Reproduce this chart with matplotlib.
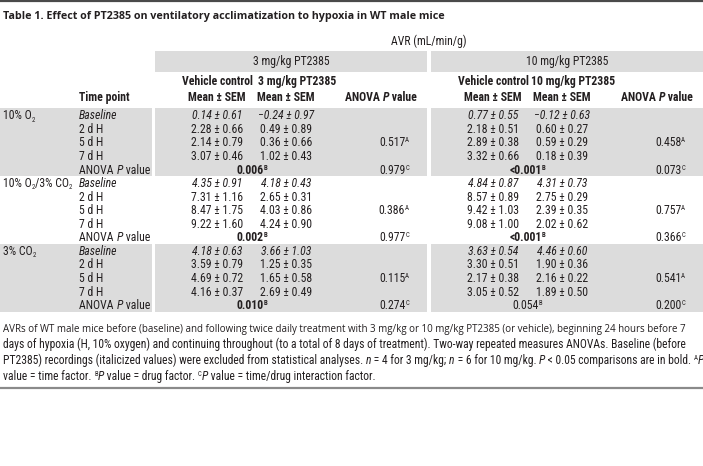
import re
import matplotlib
matplotlib.use("Agg")
import matplotlib.pyplot as plt
from matplotlib.patches import Rectangle
from matplotlib import font_manager
from matplotlib.font_manager import FontProperties

W, H = 703, 466
INK = "#231f20"
GREY = "#dcdcdc"

# ── Table content ──────────────────────────────────────────────────────────
TITLE = "Table 1. Effect of PT2385 on ventilatory acclimatization to hypoxia in WT male mice"
UNIT = "AVR (mL/min/g)"
DOSES = ["3 mg/kg PT2385", "10 mg/kg PT2385"]
CONDITIONS = ["10% O_{2}", "10% O_{2}/3% CO_{2}", "3% CO_{2}"]
TIMEPOINTS = ["Baseline", "2 d H", "5 d H", "7 d H"]

# mean, SEM per condition (rows) x time point (cols)
VEH3_MEAN = [[0.14, 2.28, 2.14, 3.07], [4.35, 7.31, 8.47, 9.22], [4.18, 3.59, 4.69, 4.16]]
VEH3_SEM = [[0.61, 0.66, 0.79, 0.46], [0.91, 1.16, 1.75, 1.60], [0.63, 0.79, 0.72, 0.37]]
PT3_MEAN = [[-0.24, 0.49, 0.36, 1.02], [4.18, 2.65, 4.03, 4.24], [3.66, 1.25, 1.65, 2.69]]
PT3_SEM = [[0.97, 0.89, 0.66, 0.43], [0.43, 0.31, 0.86, 0.90], [1.03, 0.35, 0.58, 0.49]]
VEH10_MEAN = [[0.77, 2.18, 2.89, 3.32], [4.84, 8.57, 9.42, 9.08], [3.63, 3.30, 2.17, 3.05]]
VEH10_SEM = [[0.55, 0.51, 0.38, 0.66], [0.87, 0.89, 1.03, 1.00], [0.54, 0.51, 0.38, 0.52]]
PT10_MEAN = [[-0.12, 0.60, 0.59, 0.18], [4.31, 2.75, 2.39, 2.02], [4.46, 1.90, 2.16, 1.89]]
PT10_SEM = [[0.63, 0.27, 0.29, 0.39], [0.73, 0.29, 0.35, 0.62], [0.60, 0.36, 0.22, 0.50]]

# two-way RM ANOVA P values: time (A), drug (B), interaction (C)
TIME_P = [["0.517", "0.386", "0.115"], ["0.458", "0.757", "0.541"]]
DRUG_P = [["0.006", "0.002", "0.010"], ["<0.001", "<0.001", "0.054"]]
INTER_P = [["0.979", "0.977", "0.274"], ["0.073", "0.366", "0.200"]]

FOOTNOTE_1 = ("AVRs of WT male mice before (baseline) and following twice daily treatment with "
              "3 mg/kg or 10 mg/kg PT2385 (or vehicle), beginning 24 hours before 7")
FOOTNOTE_REST = [
    "days of hypoxia (H, 10% oxygen) and continuing throughout (to a total of 8 days of "
    "treatment). Two-way repeated measures ANOVAs. Baseline (before",
    "PT2385) recordings (italicized values) were excluded from statistical analyses. "
    "*n* = 4 for 3 mg/kg; *n* = 6 for 10 mg/kg. *P* < 0.05 comparisons are in bold. ^{A}*P*",
    "value = time factor. ^{B}*P* value = drug factor. ^{C}*P* value = time/drug interaction factor.",
]

# ── Layout (pixels, y = text centre) ───────────────────────────────────────
ROW0, DY = 115, 13.57
BANDS = [155, 431]          # left edge of each dose block
BAND_W = 272
X_VEH, X_PT, X_PT_HEAD, X_ANOVA_HEAD, X_ANOVA = 62, 131, 142, 226, 239


# ── Fonts: look for a condensed sans, else fall back to Liberation Sans ───
COND = {"condensed", "semi-condensed", "extra-condensed", "ultra-condensed"}
PREF = ["Liberation Sans Narrow", "Roboto Condensed", "Noto Sans", "Open Sans",
        "DejaVu Sans", "Lato", "Inter"]


def _weight(f):
    w = f.weight
    if isinstance(w, str):
        w = font_manager.weight_dict.get(w, 400)
    return int(w)


def narrow_faces():
    cands = [f for f in font_manager.fontManager.ttflist
             if ("Narrow" in f.name or "Condensed" in f.name or f.stretch in COND)
             and not any(k in f.name for k in ("Mono", "Serif", "CJK"))]
    if not cands:
        return None

    def rank(f):
        fam = next((i for i, p in enumerate(PREF) if f.name.startswith(p)), len(PREF))
        return (fam, 0 if f.stretch == "condensed" else 1)

    best = min(cands, key=rank)
    group = [f for f in cands if f.name == best.name and f.stretch == best.stretch]
    faces = {}
    for bold in (False, True):
        for it in (False, True):
            pool = [f for f in group if (f.style != "normal") == it] or group
            f = min(pool, key=lambda f: abs(_weight(f) - (700 if bold else 400)))
            faces[(bold, it)] = f.fname
    return faces


FACES = narrow_faces()


def face(bold, it, size):
    if FACES:
        return FontProperties(fname=FACES[(bold, it)], size=size)
    return FontProperties(family="Liberation Sans", weight="bold" if bold else "normal",
                          style="italic" if it else "normal", size=size)


def wide_face(bold, it, size):
    return FontProperties(family=["Open Sans", "DejaVu Sans"], weight="bold" if bold else "normal",
                          style="italic" if it else "normal", size=size)


fig = plt.figure(figsize=(W / 100, H / 100), dpi=100)
ax = fig.add_axes([0, 0, 1, 1])
ax.set_xlim(0, W)
ax.set_ylim(H, 0)
ax.axis("off")
R = fig.canvas.get_renderer()

TOKEN = re.compile(r"(\^\{[^}]*\}|_\{[^}]*\}|\*[^*]+\*)")


def measure(s, fp):
    t = ax.text(0, 0, "x" + s + "x", fontproperties=fp)
    t2 = ax.text(0, 0, "xx", fontproperties=fp)
    w = t.get_window_extent(R).width - t2.get_window_extent(R).width
    t.remove()
    t2.remove()
    return w


def rich(x, y, s, size, ha="left", bold=False, italic=False, wide=False):
    """Draw a line with ^{sup}, _{sub} and *italic* parts; y is the text centre."""
    mk = wide_face if wide else face
    parts = []
    for tok in TOKEN.split(s):
        if not tok:
            continue
        it, scale, dy = italic, 1.0, 0.0
        if tok[:2] == "^{":
            tok, scale, dy = tok[2:-1], 0.58, -0.34
        elif tok[:2] == "_{":
            tok, scale, dy = tok[2:-1], 0.58, 0.2
        elif tok[0] == "*":
            tok, it = tok[1:-1], True
        parts.append((tok, mk(bold, it, size * scale), dy * size * 100 / 72))
    widths = [measure(t, fp) for t, fp, _ in parts]
    x0 = x - sum(widths) / 2 if ha == "center" else x
    base = y + 0.36 * size * 100 / 72
    for (t, fp, dy), w in zip(parts, widths):
        ax.text(x0, base + dy, t, fontproperties=fp, color=INK, va="baseline")
        x0 += w


def fit(s, target, mk, bold=False):
    return 8.0 * target / measure(s, mk(bold, False, 8.0))


FS = fit("Vehicle control", 71, face, bold=True)
FS_TITLE = fit(TITLE, 442, wide_face, bold=True)
FS_NOTE = fit(FOOTNOTE_REST[0], 687, face)
FS_NOTE1 = fit(FOOTNOTE_1, 687, wide_face)


def fmt(m, s):
    return f"{m:.2f} ± {s:.2f}".replace("-", "\u2212")


def is_sig(p):
    return float(p.lstrip("<")) < 0.05


def row_y(block, r):
    return ROW0 + DY * (block * 5 + r)


# rules
ax.axhline(1.2, color="#4a4a4a", lw=1.6)
ax.axhline(388, color="#8a8a8a", lw=1.6)

# header bands
for x0, dose in zip(BANDS, DOSES):
    ax.add_patch(Rectangle((x0, 51), BAND_W, 20.5, color=GREY, lw=0))
    rich(x0 + BAND_W / 2, 61, dose, FS, ha="center")

# grey bands for first and third condition
for b in (0, 2):
    top = row_y(b, 0) - DY / 2
    ax.add_patch(Rectangle((0, top), 152, DY * 5, color=GREY, lw=0))
    for x0 in BANDS:
        ax.add_patch(Rectangle((x0, top), BAND_W, DY * 5, color=GREY, lw=0))

rich(3, 15, TITLE, FS_TITLE, bold=True, wide=True)
rich(429, 41, UNIT, FS, ha="center")

rich(79, 97, "Time point", FS, bold=True)
for x0, dose in zip(BANDS, DOSES):
    rich(x0 + X_VEH, 81, "Vehicle control", FS, ha="center", bold=True)
    rich(x0 + X_PT_HEAD, 81, dose, FS, ha="center", bold=True)
    rich(x0 + X_VEH, 97, "Mean ± SEM", FS, ha="center", bold=True)
    rich(x0 + X_PT, 97, "Mean ± SEM", FS, ha="center", bold=True)
    rich(x0 + X_ANOVA_HEAD, 97, "ANOVA *P* value", FS, ha="center", bold=True)

groups = [(VEH3_MEAN, VEH3_SEM, PT3_MEAN, PT3_SEM), (VEH10_MEAN, VEH10_SEM, PT10_MEAN, PT10_SEM)]

for b, cond in enumerate(CONDITIONS):
    rich(3, row_y(b, 0), cond, FS)
    for r, tp in enumerate(TIMEPOINTS):
        rich(79, row_y(b, r), tp, FS, italic=(r == 0))
    rich(79, row_y(b, 4), "ANOVA *P* value", FS)

    for d, (x0, (vm, vs, pm, ps)) in enumerate(zip(BANDS, groups)):
        for r in range(4):
            rich(x0 + X_VEH, row_y(b, r), fmt(vm[b][r], vs[b][r]), FS, ha="center", italic=(r == 0))
            rich(x0 + X_PT, row_y(b, r), fmt(pm[b][r], ps[b][r]), FS, ha="center", italic=(r == 0))
        rich(x0 + X_ANOVA, row_y(b, 2), TIME_P[d][b] + "^{A}", FS, ha="center")
        p = DRUG_P[d][b]
        rich(x0 + (X_VEH + X_PT) / 2, row_y(b, 4), p + "^{B}", FS, ha="center", bold=is_sig(p))
        rich(x0 + X_ANOVA, row_y(b, 4), INTER_P[d][b] + "^{C}", FS, ha="center")

# footnote
rich(3, 328, FOOTNOTE_1, FS_NOTE1, wide=True)
for i, line in enumerate(FOOTNOTE_REST):
    rich(3, 344 + 16 * i, line, FS_NOTE)

fig.savefig("out.png", dpi=100)
